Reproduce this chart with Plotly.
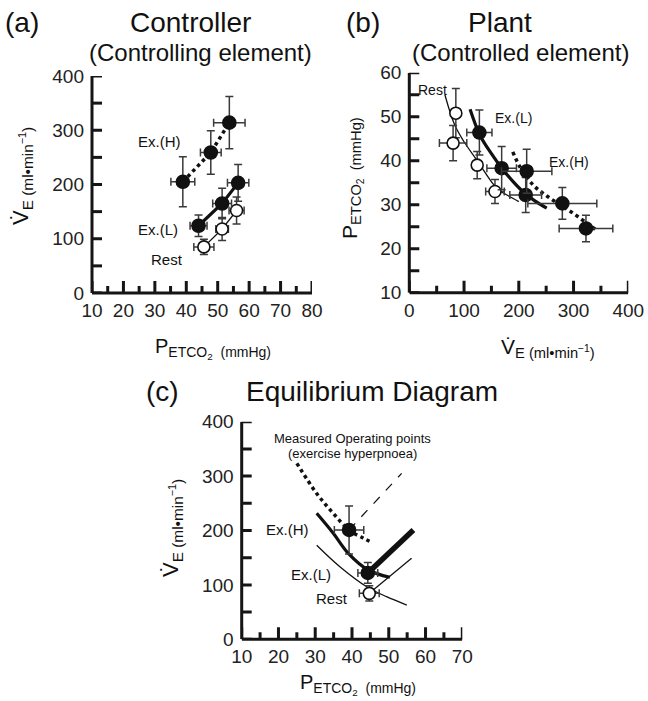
import plotly.graph_objects as go

W, H = 648, 701
FONT = "Liberation Sans, Arial, Helvetica, sans-serif"
INK = "#151515"

# ---------------- Panel (a) Controller: PETCO2 (x) vs VE (y) ----------------
a_rest_x = [45.6, 51.4, 56.0]
a_rest_y = [85, 118, 152]
a_rest_ex = [3.2, 2.0, 2.4]
a_rest_ey = [14, 21, 25]

a_exl_x = [43.9, 51.4, 56.5]
a_exl_y = [124, 165, 203]
a_exl_ex = [2.7, 3.0, 3.4]
a_exl_ey = [20, 28, 34]

a_exh_x = [38.9, 47.8, 53.7]
a_exh_y = [205, 259, 314]
a_exh_ex = [3.8, 3.3, 5.0]
a_exh_ey = [46, 40, 48]

# ---------------- Panel (b) Plant: VE (x) vs PETCO2 (y) ----------------
b_rest_v = [85, 80, 124, 156.5]
b_rest_p = [50.8, 44.0, 39.0, 33.0]
b_rest_ev = [3, 25, 8, 17]
b_rest_ep = [5.6, 4.0, 3.1, 2.7]

b_exl_v = [128, 168.7, 212.6]
b_exl_p = [46.4, 38.3, 32.2]
b_exl_ev = [23, 27, 29]
b_exl_ep = [5.1, 4.9, 4.0]

b_exh_v = [214.4, 279.5, 322.7]
b_exh_p = [37.6, 30.3, 24.6]
b_exh_ev = [46, 63, 49]
b_exh_ep = [5.0, 3.6, 3.0]

b_rest_curve_v = [65, 83, 100, 123, 160, 180, 200]
b_rest_curve_p = [55.0, 48.1, 44.3, 40.2, 33.7, 32.1, 30.7]
b_exl_curve_v = [111, 129, 150, 169, 190, 211, 230, 251]
b_exl_curve_p = [51.7, 45.8, 41.6, 38.3, 35.2, 32.6, 30.8, 29.2]
b_exh_curve_v = [189, 202, 226, 251, 275, 300, 324, 342]
b_exh_curve_p = [42.0, 38.6, 34.5, 32.0, 30.0, 28.0, 25.8, 24.2]

# ---------------- Panel (c) Equilibrium: PETCO2 (x) vs VE (y) ----------------
c_exh_x, c_exh_y, c_exh_ex, c_exh_ey = [39.2], [201], [4.0], [44]
c_exl_x, c_exl_y, c_exl_ex, c_exl_ey = [44.3], [122], [2.7], [19]
c_rest_x, c_rest_y, c_rest_ex, c_rest_ey = [44.7], [84.5], [2.7], [14]

c_exh_plant_p = [25.0, 30.4, 34.9, 39.2, 43.1, 45.6]
c_exh_plant_v = [323.5, 268, 231.6, 201, 185.7, 177.6]
c_exl_plant_p = [30.4, 34.9, 39.0, 44.4, 50.3]
c_exl_plant_v = [231.6, 195, 158, 127.4, 114]
c_rest_plant_p = [30.4, 36.7, 44.0, 49.4, 54.9]
c_rest_plant_v = [173, 133.5, 96.7, 78.3, 63]
c_exh_ctrl_p = [39.2, 53.5]
c_exh_ctrl_v = [201, 305]
c_exl_ctrl_p = [44.3, 56.7]
c_exl_ctrl_v = [122, 201]
c_rest_ctrl_p = [44.7, 56.2]
c_rest_ctrl_v = [84.5, 149]

# tick positions (every tick mark) and label steps
pet_ticks_a = [10, 15, 20, 25, 30, 35, 40, 45, 50, 55, 60, 65, 70, 75, 80]
pet_ticks_c = [10, 15, 20, 25, 30, 35, 40, 45, 50, 55, 60, 65, 70]
ve_ticks = [0, 50, 100, 150, 200, 250, 300, 350, 400]
pb_ticks = [10, 15, 20, 25, 30, 35, 40, 45, 50, 55, 60]


def X(px):
    return px / W


def Y(py):
    return 1 - py / H


def err(arr):
    return dict(type="data", array=arr, visible=True, color="#3a3a3a", thickness=1.5, width=4)


def pts(x, y, ex, ey, filled, xa, ya, line=None):
    mk = dict(size=13 if filled else 12, color="#111" if filled else "white",
              line=dict(color="#111", width=1.6))
    return go.Scatter(x=x, y=y, mode="lines+markers" if line else "markers",
                      line=line, marker=mk, error_x=err(ex), error_y=err(ey),
                      xaxis=xa, yaxis=ya, hoverinfo="skip")


def curve(x, y, width, dash, xa, ya, shape="spline"):
    return go.Scatter(x=x, y=y, mode="lines", line=dict(color="#111", width=width, dash=dash, shape=shape),
                      xaxis=xa, yaxis=ya, hoverinfo="skip")


fig = go.Figure()

# Panel (a)
fig.add_trace(pts(a_rest_x, a_rest_y, a_rest_ex, a_rest_ey, False, "x", "y", dict(color="#111", width=1.3)))
fig.add_trace(pts(a_exl_x, a_exl_y, a_exl_ex, a_exl_ey, True, "x", "y", dict(color="#111", width=3.2)))
fig.add_trace(pts(a_exh_x, a_exh_y, a_exh_ex, a_exh_ey, True, "x", "y", dict(color="#111", width=3.5, dash="dot")))

# Panel (b)
fig.add_trace(curve(b_rest_curve_v, b_rest_curve_p, 1.3, "solid", "x2", "y2"))
fig.add_trace(curve(b_exl_curve_v, b_exl_curve_p, 3.2, "solid", "x2", "y2"))
fig.add_trace(curve(b_exh_curve_v, b_exh_curve_p, 3.5, "dot", "x2", "y2"))
fig.add_trace(pts(b_rest_v, b_rest_p, b_rest_ev, b_rest_ep, False, "x2", "y2"))
fig.add_trace(pts(b_exl_v, b_exl_p, b_exl_ev, b_exl_ep, True, "x2", "y2"))
fig.add_trace(pts(b_exh_v, b_exh_p, b_exh_ev, b_exh_ep, True, "x2", "y2"))

# Panel (c)
fig.add_trace(curve(c_rest_plant_p, c_rest_plant_v, 1.3, "solid", "x3", "y3"))
fig.add_trace(curve(c_exl_plant_p, c_exl_plant_v, 3.2, "solid", "x3", "y3"))
fig.add_trace(curve(c_exh_plant_p, c_exh_plant_v, 3.5, "dot", "x3", "y3"))
fig.add_trace(curve(c_rest_ctrl_p, c_rest_ctrl_v, 1.3, "solid", "x3", "y3", "linear"))
fig.add_trace(curve(c_exl_ctrl_p, c_exl_ctrl_v, 5.5, "solid", "x3", "y3", "linear"))
fig.add_trace(curve(c_exh_ctrl_p, c_exh_ctrl_v, 1.2, "dash", "x3", "y3", "linear"))
fig.add_trace(pts(c_rest_x, c_rest_y, c_rest_ex, c_rest_ey, False, "x3", "y3"))
fig.add_trace(pts(c_exl_x, c_exl_y, c_exl_ex, c_exl_ey, True, "x3", "y3"))
fig.add_trace(pts(c_exh_x, c_exh_y, c_exh_ex, c_exh_ey, True, "x3", "y3"))


def axis(domain, rng, vals, step, anchor, standoff):
    labeled = [v for v in vals if v % step == 0]
    return dict(domain=domain, range=rng, anchor=anchor,
                tickmode="array", tickvals=labeled, ticktext=[str(v) for v in labeled],
                automargin=False, showline=False, ticks="", showgrid=False, zeroline=False,
                ticklabelstandoff=standoff,
                tickfont=dict(family=FONT, size=19, color="#222"))


fig.update_layout(
    template="simple_white",
    width=W, height=H, margin=dict(l=0, r=0, t=0, b=0, pad=0, autoexpand=False),
    paper_bgcolor="white", plot_bgcolor="white", showlegend=False,
    xaxis=axis([X(92), X(312)], [10, 80], pet_ticks_a, 10, "y", 4),
    yaxis=axis([Y(293), Y(76)], [0, 400], ve_ticks, 100, "x", 7),
    xaxis2=axis([X(409.3), X(628.3)], [0, 400], ve_ticks, 100, "y2", 4),
    yaxis2=axis([Y(292.7), Y(72.7)], [10, 60], pb_ticks, 10, "x2", 7),
    xaxis3=axis([X(241.7), X(462.3)], [10, 70], pet_ticks_c, 10, "y3", 4),
    yaxis3=axis([Y(639.3), Y(421.7)], [0, 400], ve_ticks, 100, "x3", 7),
)

# axis lines and inward tick marks, placed on each axis via its own scale
shapes = []


def frame(xr, yr, xrng, yrng, xvals, xstep, yvals):
    line = dict(color=INK, width=3)
    base = dict(type="line", line=line, layer="above", opacity=1)
    shapes.append(dict(base, xref=xr, yref=yr + " domain", x0=xrng[0], x1=xrng[1], y0=0, y1=0))
    shapes.append(dict(base, xref=xr + " domain", yref=yr, x0=0, x1=0, y0=yrng[0], y1=yrng[1]))
    for v in xvals:
        ln = 12 if v % xstep == 0 else 7
        shapes.append(dict(base, xref=xr, yref=yr + " domain", ysizemode="pixel",
                           yanchor=0, x0=v, x1=v, y0=0, y1=ln))
    for v in yvals:
        shapes.append(dict(base, xref=xr + " domain", yref=yr, xsizemode="pixel",
                           xanchor=0, x0=0, x1=10, y0=v, y1=v))


frame("x", "y", [10, 80], [0, 400], pet_ticks_a, 10, ve_ticks)
frame("x2", "y2", [0, 400], [10, 60], ve_ticks, 100, pb_ticks)
frame("x3", "y3", [10, 70], [0, 400], pet_ticks_c, 10, ve_ticks)

ann = []


def paper_text(text, px, py, size, angle=0):
    ann.append(dict(text=text, x=X(px), y=Y(py), xref="paper", yref="paper",
                    xanchor="center", yanchor="middle", showarrow=False, textangle=angle,
                    font=dict(family=FONT, size=size, color="#111")))


def data_text(text, x, y, xr, yr, size=15):
    ann.append(dict(text=text, x=x, y=y, xref=xr, yref=yr, xanchor="center", yanchor="middle",
                    showarrow=False, font=dict(family=FONT, size=size, color="#111")))


# titles
paper_text("(a)", 22, 23, 28)
paper_text("Controller", 190, 23, 28)
paper_text("(Controlling element)", 200, 52, 24)
paper_text("(b)", 363, 23, 28)
paper_text("Plant", 500, 23, 28)
paper_text("(Controlled element)", 520, 52, 24)
paper_text("(c)", 162, 391, 28)
paper_text("Equilibrium Diagram", 372, 391, 28)

VE = "V\u0307<sub>E (ml\u2022min<sup>\u22121</sup>)</sub>"
PCO2 = "P<sub>ETCO<sub>2</sub>\u00a0\u00a0(mmHg)</sub>"

paper_text(VE, 22, 176, 22, -90)
paper_text(PCO2, 213, 348, 20)
paper_text(PCO2, 352, 178, 21, -90)
paper_text(VE, 548, 348, 21)
paper_text(VE, 172, 528, 22, -90)
paper_text(PCO2, 358, 684, 20)

# labels in panels
data_text("Ex.(H)", 31.6, 279, "x", "y")
data_text("Ex.(L)", 31.1, 117, "x", "y")
data_text("Rest", 33.8, 62, "x", "y")

data_text("Rest", 41.5, 56.1, "x2", "y2", 14)
data_text("Ex.(L)", 189.4, 49.6, "x2", "y2", 14)
data_text("Ex.(H)", 292, 39.8, "x2", "y2", 14)

data_text("Measured Operating points", 40.1, 369.5, "x3", "y3", 13)
data_text("(exercise hyperpnoea)", 40.1, 342, "x3", "y3", 13)
data_text("Ex.(H)", 22.5, 202, "x3", "y3")
data_text("Ex.(L)", 28.8, 120, "x3", "y3")
data_text("Rest", 34.5, 75, "x3", "y3")

fig.update_layout(annotations=ann, shapes=shapes)
fig.write_html("out.html", config={"displayModeBar": False},
               post_script="document.body.style.margin='0px';")
